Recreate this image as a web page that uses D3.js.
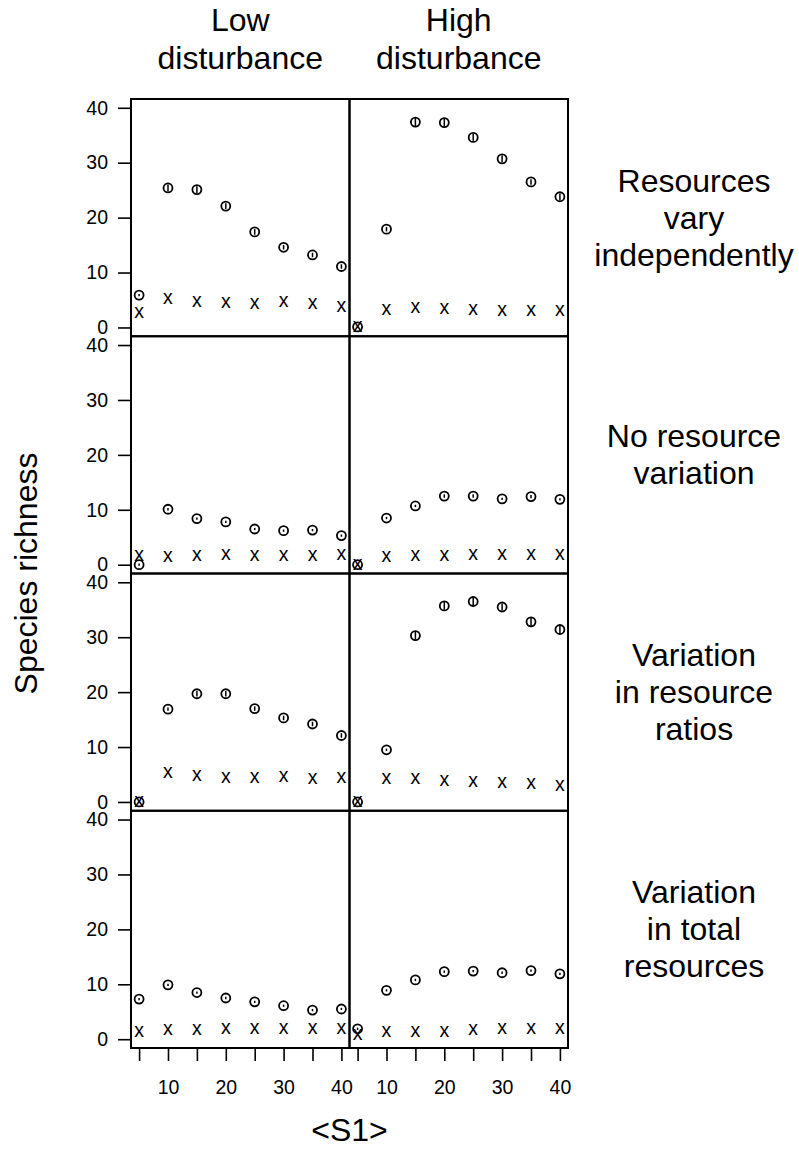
<html>
<head>
  <script src="https://d3js.org/d3.v7.min.js"></script>
  <style>
    body { margin: 0; background: white; }
    text { font-family: "Liberation Sans", Arial, sans-serif; fill: black; }
    .frame { fill: none; stroke: black; stroke-width: 2px; }
    .axis path.domain { display: none; }
    .axis line { stroke: black; stroke-width: 1.6px; }
    .axis text { font-size: 19.5px; }
  </style>
</head>
<body>
<svg id="chart" width="799" height="1153"></svg>
<script>
// <S1> values on the x axis, same for every panel
const s1 = [5, 10, 15, 20, 25, 30, 35, 40];
const colHeads = [["Low", "disturbance"], ["High", "disturbance"]];
const rowHeads = [
  ["Resources", "vary", "independently"],
  ["No resource", "variation"],
  ["Variation", "in resource", "ratios"],
  ["Variation", "in total", "resources"]
];
const yTicks = [0, 10, 20, 30, 40];

// circles (with small error bar) and x marks, per panel
const indepLowO  = [5.9, 25.4, 25.1, 22.1, 17.4, 14.6, 13.2, 11.1];
const indepLowSE = [0.1, 0.5, 0.5, 0.4, 0.4, 0.3, 0.3, 0.3];
const indepLowX  = [2.7, 5.1, 4.7, 4.4, 4.3, 4.6, 4.3, 3.7];
const indepHighO  = [0.1, 17.9, 37.4, 37.3, 34.6, 30.7, 26.5, 23.8];
const indepHighSE = [0.0, 0.3, 0.6, 0.6, 0.5, 0.5, 0.4, 0.5];
const indepHighX  = [0.1, 3.2, 3.5, 3.4, 3.2, 3.0, 3.0, 3.0];

const noneLowO  = [0.0, 10.1, 8.4, 7.8, 6.5, 6.2, 6.3, 5.3];
const noneLowSE = [0.1, 0.1, 0.1, 0.1, 0.1, 0.1, 0.1, 0.1];
const noneLowX  = [1.5, 1.4, 1.5, 1.7, 1.6, 1.6, 1.6, 1.8];
const noneHighO  = [0.0, 8.5, 10.7, 12.5, 12.5, 12.0, 12.4, 11.9];
const noneHighSE = [0.0, 0.1, 0.1, 0.2, 0.2, 0.1, 0.2, 0.1];
const noneHighX  = [0.0, 1.4, 1.5, 1.5, 1.7, 1.7, 1.8, 1.7];

const ratioLowO  = [0.0, 16.9, 19.7, 19.7, 17.0, 15.3, 14.2, 12.1];
const ratioLowSE = [0.0, 0.2, 0.4, 0.4, 0.3, 0.3, 0.3, 0.3];
const ratioLowX  = [0.0, 5.3, 4.8, 4.4, 4.4, 4.5, 4.2, 4.4];
const ratioHighO  = [0.0, 9.5, 30.3, 35.7, 36.5, 35.5, 32.8, 31.4];
const ratioHighSE = [0.0, 0.1, 0.6, 0.6, 0.6, 0.5, 0.7, 0.7];
const ratioHighX  = [0.0, 4.1, 4.2, 3.9, 3.7, 3.4, 3.2, 2.9];

const totalLowO  = [7.3, 9.9, 8.5, 7.5, 6.8, 6.1, 5.3, 5.5];
const totalLowSE = [0.1, 0.1, 0.1, 0.1, 0.1, 0.1, 0.1, 0.1];
const totalLowX  = [1.3, 1.6, 1.7, 1.9, 1.8, 1.8, 1.8, 1.9];
const totalHighO  = [1.9, 8.9, 10.8, 12.3, 12.4, 12.1, 12.5, 11.9];
const totalHighSE = [0.1, 0.1, 0.1, 0.1, 0.1, 0.1, 0.1, 0.1];
const totalHighX  = [0.7, 1.4, 1.4, 1.4, 1.7, 1.8, 1.8, 1.8];

const panels = [
  [[indepLowO, indepLowSE, indepLowX], [indepHighO, indepHighSE, indepHighX]],
  [[noneLowO, noneLowSE, noneLowX], [noneHighO, noneHighSE, noneHighX]],
  [[ratioLowO, ratioLowSE, ratioLowX], [ratioHighO, ratioHighSE, ratioHighX]],
  [[totalLowO, totalLowSE, totalLowX], [totalHighO, totalHighSE, totalHighX]]
];

const svg = d3.select("#chart");
const plotLeft = 131, plotTop = 99;
const colW = 218.5, rowH = 237.25;

const x = d3.scaleLinear().domain([3.6, 41.4]).range([0, colW]);
const y = d3.scaleLinear().domain([-1.6, 41.6]).range([rowH, 0]);

panels.forEach((row, r) => {
  row.forEach((p, c) => {
    const g = svg.append("g")
      .attr("transform", "translate(" + (plotLeft + c * colW) + "," + (plotTop + r * rowH) + ")");

    const [obs, se, xm] = p;
    const pts = s1.map((s, i) => ({ s: s, o: obs[i], e: se[i], x: xm[i] }));

    // x marks drawn as the letter, like pch = "x"
    g.selectAll("text.xm").data(pts).join("text")
      .attr("class", "xm")
      .attr("x", d => x(d.s))
      .attr("y", d => y(d.x) + 5)
      .attr("text-anchor", "middle")
      .style("font-size", "19.5px")
      .text("x");

    g.selectAll("line.err").data(pts).join("line")
      .attr("class", "err")
      .attr("x1", d => x(d.s)).attr("x2", d => x(d.s))
      .attr("y1", d => y(d.o - d.e) + 0.6).attr("y2", d => y(d.o + d.e) - 0.6)
      .attr("stroke", "black").attr("stroke-width", 1.5);

    g.selectAll("circle").data(pts).join("circle")
      .attr("cx", d => x(d.s))
      .attr("cy", d => y(d.o))
      .attr("r", 4.5)
      .attr("fill", "none")
      .attr("stroke", "black")
      .attr("stroke-width", 1.8);

    g.append("rect").attr("class", "frame")
      .attr("width", colW).attr("height", rowH);

    if (c == 0) {
      g.append("g").attr("class", "axis")
        .call(d3.axisLeft(y).tickValues(yTicks).tickSize(13).tickPadding(10));
    }
    if (r == panels.length - 1) {
      g.append("g").attr("class", "axis")
        .attr("transform", "translate(0," + rowH + ")")
        .call(d3.axisBottom(x).tickValues(s1).tickSize(13).tickPadding(19)
          .tickFormat(d => d % 10 == 0 ? d : ""));
    }
  });
});

// column headings
colHeads.forEach((lines, c) => {
  svg.append("text")
    .attr("text-anchor", "middle")
    .style("font-size", "32px")
    .selectAll("tspan").data(lines).join("tspan")
    .attr("x", plotLeft + c * colW + colW / 2)
    .attr("y", (d, i) => 31 + i * 37.5)
    .text(d => d);
});

// row headings on the right
rowHeads.forEach((lines, r) => {
  const cy = plotTop + r * rowH + rowH / 2;
  const first = cy - (lines.length - 1) * 37 / 2 + 11;
  svg.append("text")
    .attr("text-anchor", "middle")
    .style("font-size", "32px")
    .selectAll("tspan").data(lines).join("tspan")
    .attr("x", 694)
    .attr("y", (d, i) => first + i * 37)
    .text(d => d);
});

svg.append("text")
  .attr("transform", "translate(37," + (plotTop + 2 * rowH) + ") rotate(-90)")
  .attr("text-anchor", "middle")
  .style("font-size", "32px")
  .text("Species richness");

svg.append("text")
  .attr("x", plotLeft + colW)
  .attr("y", 1141)
  .attr("text-anchor", "middle")
  .style("font-size", "32px")
  .text("<S1>");
</script>
</body>
</html>
